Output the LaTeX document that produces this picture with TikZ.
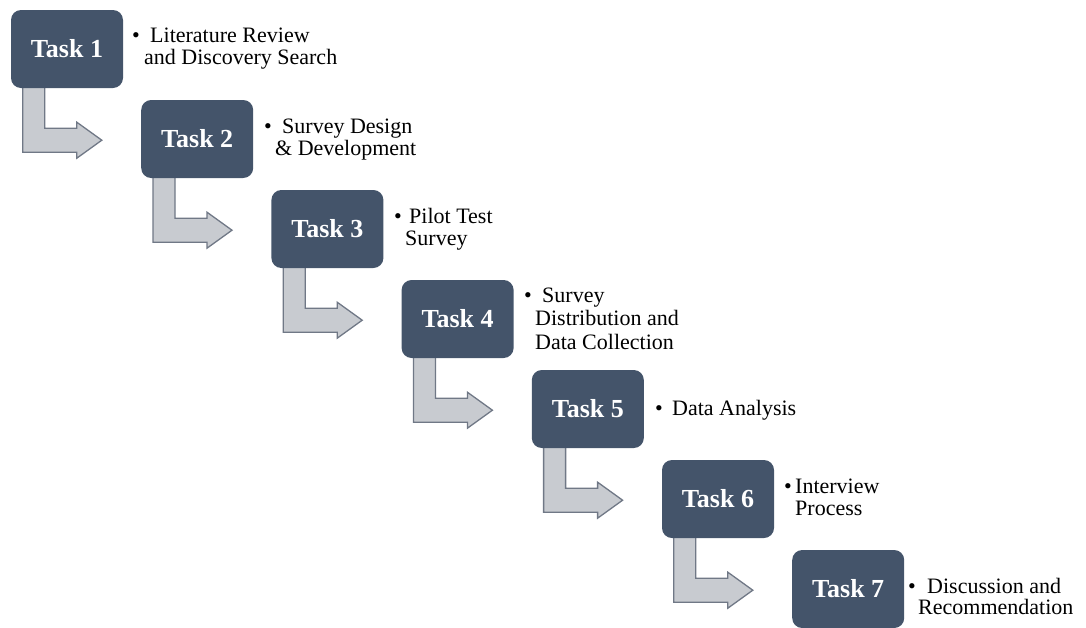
\documentclass[tikz,border=0pt]{standalone}
\usepackage{fontspec}
\setmainfont{Liberation Serif}
\usetikzlibrary{calc,backgrounds}
\definecolor{boxblue}{HTML}{44546A}
\definecolor{arrowfill}{RGB}{200,203,208}
\definecolor{arrowline}{RGB}{112,120,134}
\begin{document}
\begin{tikzpicture}[x=1pt,y=-1pt,
 taskbox/.style={fill=boxblue, rounded corners=10pt, minimum width=112pt, minimum height=78pt, inner sep=0pt, text=white, font=\fontsize{26}{28}\selectfont\bfseries},
 bentarrow/.style={fill=arrowfill, draw=arrowline, line width=1.3pt, line join=miter},
 lbl/.style={anchor=base west, inner sep=0pt, font=\fontsize{22}{22}\selectfont, text=black}]
\useasboundingbox (0,0) rectangle (1086,627);
% task boxes
\node[taskbox] (t1) at (67,49) {Task 1};
\node[taskbox] (t2) at (197.2,139) {Task 2};
\node[taskbox] (t3) at (327.4,229) {Task 3};
\node[taskbox] (t4) at (457.6,319) {Task 4};
\node[taskbox] (t5) at (587.8,409) {Task 5};
\node[taskbox] (t6) at (718,499) {Task 6};
\node[taskbox] (t7) at (848.2,589) {Task 7};
% bent arrows
\begin{scope}[on background layer]
\foreach \i in {1,...,6}{
  \draw[bentarrow] ($(t\i.south west)+(12,-2)$) -- ++(22,0) -- ++(0,42) -- ++(32,0)
    -- ++(0,-6) -- ++(25,18) -- ++(-25,18) -- ++(0,-6) -- ++(-54,0) -- cycle;
}
\end{scope}
% labels
\node[lbl] (b1) at (132,42) {\textbullet};
\node[lbl] (l1a) at (150,42) {Literature Review};
\node[lbl] (l1b) at (144,64) {and Discovery Search};
\node[lbl] (b2) at (264,133) {\textbullet};
\node[lbl] (l2a) at (282,133) {Survey Design};
\node[lbl] (l2b) at (275,155) {\& Development};
\node[lbl] (b3) at (394,223) {\textbullet};
\node[lbl] (l3a) at (409,223) {Pilot Test};
\node[lbl] (l3b) at (405,245) {Survey};
\node[lbl] (b4) at (524,302) {\textbullet};
\node[lbl] (l4a) at (542,302) {Survey};
\node[lbl] (l4b) at (535,325) {Distribution and};
\node[lbl] (l4c) at (535,349) {Data Collection};
\node[lbl] (b5) at (655,415) {\textbullet};
\node[lbl] (l5a) at (672,415) {Data Analysis};
\node[lbl] (b6) at (784,493) {\textbullet};
\node[lbl] (l6a) at (795,493) {Interview};
\node[lbl] (l6b) at (795,515) {Process};
\node[lbl] (b7) at (908,593) {\textbullet};
\node[lbl] (l7a) at (927,593) {Discussion and};
\node[lbl] (l7b) at (918,614) {Recommendation};
\end{tikzpicture}
\end{document}
